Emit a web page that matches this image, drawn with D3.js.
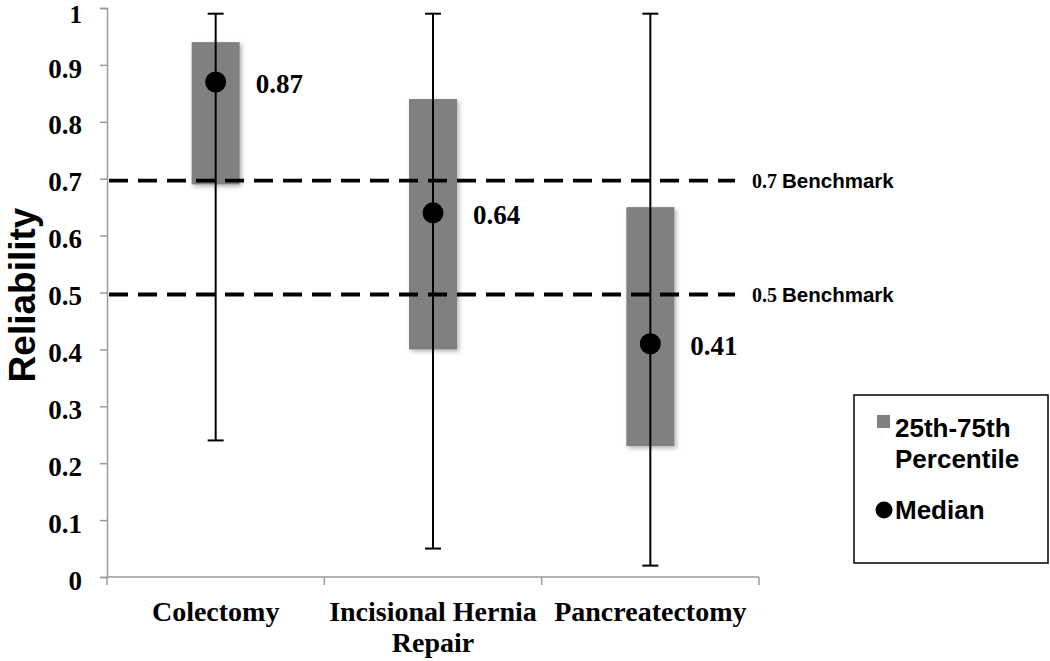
<!DOCTYPE html>
<html><head><meta charset="utf-8">
<script src="https://cdn.jsdelivr.net/npm/d3@7"></script>
<style>body{margin:0;background:#fff}</style>
</head><body>
<svg id="c" width="1050" height="661"></svg>
<script>
const categories = ["Colectomy", "Incisional Hernia|Repair", "Pancreatectomy"];
const medians = [0.87, 0.64, 0.41];
const q25 = [0.69, 0.40, 0.23];
const q75 = [0.94, 0.84, 0.65];
const whiskerLow = [0.24, 0.05, 0.02];
const whiskerHigh = [0.99, 0.99, 0.99];
const benchmarks = [0.7, 0.5];
const benchmarkLabels = ["0.7", "0.5"];
const yTicks = [0, 0.1, 0.2, 0.3, 0.4, 0.5, 0.6, 0.7, 0.8, 0.9, 1];

const svg = d3.select("#c");
const serif = "'Liberation Serif', 'DejaVu Serif', serif";
const sans = "'Liberation Sans', Arial, sans-serif";

const x = d3.scaleBand().domain(categories).range([107, 759]).padding(0);
const y = d3.scaleLinear().domain([0, 1]).range([577, 8]);

const defs = svg.append("defs");
const f = defs.append("filter").attr("id", "sh").attr("x", "-20%").attr("y", "-20%").attr("width", "150%").attr("height", "150%");
f.append("feDropShadow").attr("dx", 2).attr("dy", 2).attr("stdDeviation", 2).attr("flood-color", "#000").attr("flood-opacity", 0.3);

// axes
const yAxis = svg.append("g").attr("transform", "translate(107,0)")
  .call(d3.axisLeft(y).tickValues(yTicks).tickSize(7).tickFormat(d => d === 0 || d === 1 ? d3.format("d")(d) : d3.format(".1f")(d)));
yAxis.select(".domain").attr("stroke", "#9a9a9a").attr("stroke-width", 1.5);
yAxis.selectAll(".tick line").attr("stroke", "#9a9a9a").attr("stroke-width", 1.5);
yAxis.selectAll(".tick text").attr("font-family", serif).attr("font-weight", "bold").attr("font-size", 27)
  .attr("fill", "#000").attr("x", -25).attr("dy", "0.45em");
yAxis.selectAll(".tick text").filter(d => d === 1).attr("font-size", 25).attr("dy", "0.58em");

const xAxis = svg.append("g").attr("transform", "translate(0,577)");
xAxis.append("line").attr("x1", 107).attr("x2", 759).attr("stroke", "#9a9a9a").attr("stroke-width", 1.5);
const bounds = categories.map(c => x(c)).concat([x.range()[1]]);
xAxis.selectAll("line.tk").data(bounds).enter().append("line").attr("class", "tk")
  .attr("x1", d => d).attr("x2", d => d).attr("y1", 0).attr("y2", 8)
  .attr("stroke", "#9a9a9a").attr("stroke-width", 1.5);
categories.forEach(c => {
  const lines = c.split("|");
  const t = svg.append("text").attr("x", x(c) + x.bandwidth() / 2).attr("y", 621)
    .attr("text-anchor", "middle").attr("font-family", serif).attr("font-weight", "bold")
    .attr("font-size", 28).attr("fill", "#000");
  lines.forEach((l, i) => t.append("tspan").attr("x", x(c) + x.bandwidth() / 2).attr("dy", i === 0 ? 0 : 31).text(l));
});

// y label
svg.append("text").attr("transform", "translate(35,295) rotate(-90)").attr("text-anchor", "middle")
  .attr("font-family", sans).attr("font-weight", "bold").attr("font-size", 37).attr("fill", "#000").text("Reliability");

const bw = 48;
const cx = c => x(c) + x.bandwidth() / 2;
// boxes
svg.append("g").selectAll("rect").data(categories).enter().append("rect")
  .attr("x", c => cx(c) - bw / 2).attr("width", bw)
  .attr("y", (c, i) => y(q75[i])).attr("height", (c, i) => y(q25[i]) - y(q75[i]))
  .attr("fill", "#808080").attr("filter", "url(#sh)");

// benchmark lines
benchmarks.forEach((b, i) => {
  svg.append("line").attr("x1", 109).attr("x2", 735).attr("y1", y(b) + 2).attr("y2", y(b) + 2)
    .attr("stroke", "#000").attr("stroke-width", 3.8).attr("stroke-dasharray", "19,10");
  const t = svg.append("text").attr("x", 752).attr("y", y(b) + 2).attr("dy", "0.36em")
    .attr("font-weight", "bold").attr("font-size", 20).attr("fill", "#000");
  t.append("tspan").attr("font-family", serif).text(benchmarkLabels[i] + " ");
  t.append("tspan").attr("font-family", sans).attr("font-size", 20.5).text("Benchmark");
});

// whiskers
const wg = svg.append("g").attr("stroke", "#000").attr("stroke-width", 2);
categories.forEach((c, i) => {
  wg.append("line").attr("x1", cx(c)).attr("x2", cx(c)).attr("y1", y(whiskerHigh[i])).attr("y2", y(whiskerLow[i]));
  [whiskerHigh[i], whiskerLow[i]].forEach(v => wg.append("line").attr("x1", cx(c) - 8).attr("x2", cx(c) + 8).attr("y1", y(v)).attr("y2", y(v)));
});

// medians
svg.append("g").selectAll("circle").data(categories).enter().append("circle")
  .attr("cx", cx).attr("cy", (c, i) => y(medians[i])).attr("r", 10.5).attr("fill", "#000");
svg.append("g").selectAll("text").data(categories).enter().append("text")
  .attr("x", c => cx(c) + 40).attr("y", (c, i) => y(medians[i])).attr("dy", "0.42em")
  .attr("font-family", serif).attr("font-weight", "bold").attr("font-size", 27).attr("fill", "#000")
  .text((c, i) => d3.format(".2f")(medians[i]));

// legend
const lg = svg.append("g");
lg.append("rect").attr("x", 854).attr("y", 395).attr("width", 194).attr("height", 168)
  .attr("fill", "#fff").attr("stroke", "#000").attr("stroke-width", 1.5);
lg.append("rect").attr("x", 877).attr("y", 415).attr("width", 13).attr("height", 13).attr("fill", "#808080");
const lt = lg.append("text").attr("font-family", sans).attr("font-weight", "bold").attr("font-size", 26).attr("fill", "#000");
lt.append("tspan").attr("x", 895).attr("y", 437).text("25th-75th");
lt.append("tspan").attr("x", 895).attr("y", 468).text("Percentile");
lg.append("circle").attr("cx", 884).attr("cy", 510).attr("r", 8.5).attr("fill", "#000");
lg.append("text").attr("x", 895).attr("y", 519).attr("font-family", sans).attr("font-weight", "bold").attr("font-size", 26).attr("fill", "#000").text("Median");
</script>
</body></html>
